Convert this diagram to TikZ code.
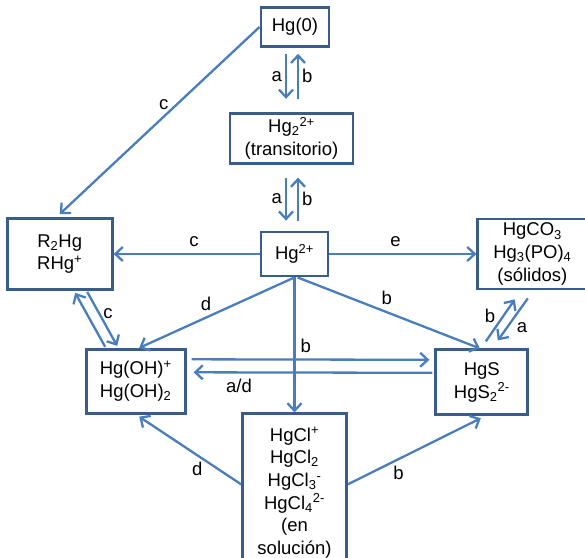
\documentclass[tikz,border=0pt]{standalone}
\usepackage{fontspec}
\setmainfont{Liberation Sans}
\usetikzlibrary{arrows.meta, positioning}

\definecolor{boxblue}{RGB}{56,93,138}
\definecolor{arrowblue}{RGB}{74,126,187}

\begin{document}
\begin{tikzpicture}[
  x=1pt, y=1pt,
  box/.style={draw=boxblue, line width=2.8pt, fill=white, align=center,
              inner sep=2pt, font=\fontsize{18.5}{22.6}\selectfont},
  arrow/.style={-{Straight Barb[length=7.5pt,width=14pt]}, line width=2.3pt,
                draw=arrowblue},
  tag/.style={font=\fontsize{18.5}{22.6}\selectfont, inner xsep=3pt,
              inner ysep=6pt}
]
\useasboundingbox (0,0) rectangle (585,-557);

%% -- Especies de mercurio ------------------------------------------
\node[box, minimum width=67pt, minimum height=44pt] (hgii) at (294.5,-254)
  {Hg\textsuperscript{2+}};

\node[box, minimum width=123pt, minimum height=50pt,
  above=66pt of hgii, xshift=-3pt] (hgdos)
  {Hg\textsubscript{2}\textsuperscript{2+}\\(transitorio)};

\node[box, minimum width=68pt, minimum height=39pt,
  above=64pt of hgdos, xshift=3.5pt] (hgcero) {Hg(0)};

\node[box, minimum width=105pt, minimum height=71pt,
  left=146pt of hgii] (organ)
  {R\textsubscript{2}Hg\\RHg\textsuperscript{+}};

\node[box, minimum width=109pt, minimum height=70pt,
  right=147pt of hgii] (solidos)
  {HgCO\textsubscript{3}\\Hg\textsubscript{3}(PO)\textsubscript{4}\\(sólidos)};

\node[box, minimum width=99pt, minimum height=64pt,
  below=57pt of organ, xshift=76pt] (hidrox)
  {Hg(OH)\textsuperscript{+}\\Hg(OH)\textsubscript{2}};

\node[box, minimum width=92pt, minimum height=65pt,
  below=58pt of solidos, xshift=-50.5pt] (sulf)
  {HgS\\HgS\textsubscript{2}\textsuperscript{2-}};

\node[box, minimum width=104pt, minimum height=158pt,
  below=135pt of hgii] (cloro)
  {HgCl\textsuperscript{+}\\HgCl\textsubscript{2}\\HgCl\textsubscript{3}\textsuperscript{-}\\
   HgCl\textsubscript{4}\textsuperscript{2-}\\(en\\solución)};

%% -- Hg(0) <-> Hg2(2+) <-> Hg(2+) ----------------------------------
\draw[arrow] ([xshift=-9pt,yshift=-6pt]hgcero.south)
  -- node[tag, left] {a} ([xshift=-5.5pt,yshift=13pt]hgdos.north);
\draw[arrow] ([xshift=6.5pt,yshift=13pt]hgdos.north)
  -- node[tag, right] {b} ([xshift=3pt,yshift=-6pt]hgcero.south);

\draw[arrow] ([xshift=-5.5pt,yshift=-13pt]hgdos.south)
  -- node[tag, left] {a} ([xshift=-8.5pt,yshift=10pt]hgii.north);
\draw[arrow] ([xshift=3.5pt,yshift=10pt]hgii.north)
  -- node[tag, right] {b} ([xshift=6.5pt,yshift=-13pt]hgdos.south);

%% -- desde Hg(2+) --------------------------------------------------
\draw[arrow] (hgcero.west) -- node[tag, above, pos=0.48] {c} ([yshift=3pt]organ.north);
\draw[arrow] (hgii.west) -- node[tag, above, pos=0.45] {c} (organ.east);
\draw[arrow] (hgii.east) -- node[tag, above, pos=0.45] {e} (solidos.west);
\draw[arrow] (hgii.south) -- node[tag, above, pos=0.57] {d}
  ([xshift=3.5pt]hidrox.north);
\draw[arrow] ([xshift=3pt]hgii.south) -- node[tag, above, pos=0.49] {b}
  ([xshift=-2pt]sulf.north);
\draw[arrow] (hgii.south) -- (hgii.south |- cloro.north);

%% -- Hg(OH) <-> HgS ------------------------------------------------
\draw[arrow] ([xshift=5pt,yshift=22pt]hidrox.east)
  -- node[tag, above, pos=0.48] {b} ([xshift=-5pt,yshift=22.5pt]sulf.west);
\draw[arrow] ([xshift=-2pt,yshift=9.5pt]sulf.west)
  -- node[tag, below, pos=0.81] {a/d} ([xshift=7pt,yshift=9pt]hidrox.east);

%% -- R2Hg <-> Hg(OH) -----------------------------------------------
\draw[arrow] ([xshift=27.5pt,yshift=-1pt]organ.south)
  -- node[tag, right, pos=0.4] {c} ([xshift=-18.5pt,yshift=2pt]hidrox.north);
\draw[arrow] ([xshift=-30.5pt,yshift=1pt]hidrox.north)
  -- ([xshift=15.5pt,yshift=-2pt]organ.south);

%% -- HgS <-> sólidos -----------------------------------------------
\draw[arrow] ([xshift=4pt,yshift=7pt]sulf.north)
  -- node[tag, left=4pt, pos=0.6] {b} ([xshift=-17.5pt,yshift=-9pt]solidos.south);
\draw[arrow] ([xshift=-4.5pt,yshift=-8pt]solidos.south)
  -- node[tag, right=6pt, pos=0.7] {a} ([xshift=16pt,yshift=8pt]sulf.north);

%% -- desde los cloruros --------------------------------------------
\draw[arrow] ([yshift=8.5pt]cloro.west)
  -- node[tag, below, pos=0.43] {d} ([xshift=3.5pt,yshift=-2pt]hidrox.south);
\draw[arrow] ([yshift=8.5pt]cloro.east)
  -- node[tag, below, pos=0.38] {b} ([xshift=-1pt,yshift=-2pt]sulf.south);

\end{tikzpicture}
\end{document}
